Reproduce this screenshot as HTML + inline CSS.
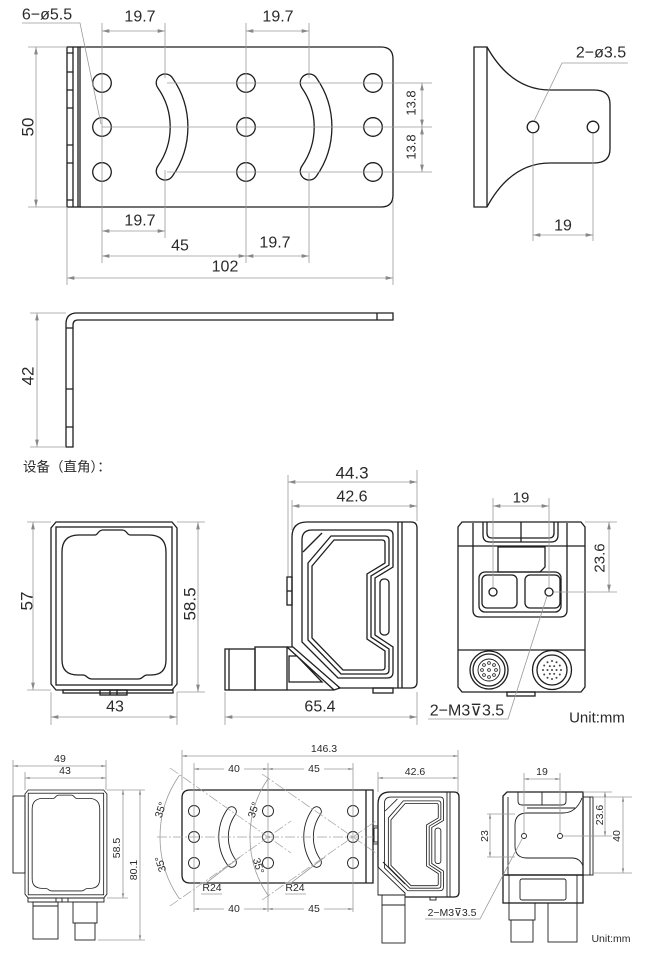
<!DOCTYPE html>
<html><head><meta charset="utf-8"><style>
html,body{margin:0;padding:0;background:#fff;}
svg{display:block}
.o{fill:none;stroke:#1e1e1e;stroke-width:1.3}
.ot{fill:none;stroke:#1e1e1e;stroke-width:0.9}
.d{fill:none;stroke:#9a9a9a;stroke-width:0.8}
.a{marker-start:url(#m);marker-end:url(#m)}
.b{marker-start:url(#n);marker-end:url(#n)}
.c{fill:none;stroke:#a0a0a0;stroke-width:0.7;stroke-dasharray:10 2 2 2}
text{font-family:"Liberation Sans","DejaVu Sans",sans-serif;fill:#2a2a2a;text-anchor:middle;dominant-baseline:central}
.t{font-size:16px}
.t13{font-size:13px}
.t15{font-size:15px}
.t17{font-size:17px}
.s{font-size:10.5px}
.cn{font-family:"Liberation Sans","Noto Sans CJK SC",sans-serif;font-size:13.5px;text-anchor:start}
</style></head><body>
<svg xmlns="http://www.w3.org/2000/svg" width="670" height="958" viewBox="0 0 670 958">
<defs>
<marker id="m" viewBox="0 0 10 6" refX="10" refY="3" markerWidth="8" markerHeight="4.4" orient="auto-start-reverse" markerUnits="userSpaceOnUse"><path d="M0,0.5L10,3L0,5.5z" fill="#888"/></marker>
<marker id="n" viewBox="0 0 10 6" refX="10" refY="3" markerWidth="5" markerHeight="2.8" orient="auto-start-reverse" markerUnits="userSpaceOnUse"><path d="M0,0.5L10,3L0,5.5z" fill="#888"/></marker>
<g id="front">
 <path class="o" d="M56,522H172L177,528V684L172,690H56L51,684V528Z"/>
 <rect class="o" x="56" y="527" width="116" height="158"/>
 <path class="o" d="M79,535H95C98,535 98,530 103,530H122C127,530 127,535 130,535H149Q166,535 166,552V660Q166,675 151,675H147C143,675 143,679 138,679H92C87,679 87,675 83,675H78Q62,675 62,660V552Q62,535 79,535Z"/>
</g>
<g id="frm" class="o">
 <path d="M302,540Q302,530 312,530H388Q393,530 393,535V567L375,578V635L393,647V672Q393,678 387,678H338L302,642Z"/>
 <path d="M308,563L331,536H385Q389,536 389,540V565L371,576V637L389,649V670Q389,674 385,674H341L308,640Z"/>
 <path d="M312,566L334,540H382Q385,540 385,543V563L367,574V639L385,651V667Q385,670 382,670H343L312,638Z"/>
 <rect x="380" y="579" width="9" height="56" rx="4"/>
 <path d="M303,552L322,533"/>
</g>
</defs>

<!-- ============ TOP BRACKET ============ -->
<g class="o">
 <rect x="67" y="47" width="13" height="160"/>
 <line x1="73" y1="47" x2="73" y2="207"/>
 <line x1="78" y1="47" x2="78" y2="207"/>
 <path d="M67,53H73M67,72H73M67,90H73M67,108H73M67,145H73M67,163H73M67,200H73"/>
 <path d="M80,47H381Q393,47 393,59V195Q393,207 381,207H80"/>
 <circle cx="102" cy="83" r="9.3"/><circle cx="102" cy="127" r="9.3"/><circle cx="102" cy="172" r="9.3"/>
 <circle cx="246" cy="83" r="9.3"/><circle cx="246" cy="127" r="9.3"/><circle cx="246" cy="172" r="9.3"/>
 <circle cx="373" cy="83" r="9.3"/><circle cx="373" cy="127" r="9.3"/><circle cx="373" cy="172" r="9.3"/>
</g>
<path d="M165.1,82.8A77,77 0 0 1 165.1,171.2" stroke="#1e1e1e" stroke-width="19" stroke-linecap="round" fill="none"/>
<path d="M165.1,82.8A77,77 0 0 1 165.1,171.2" stroke="#fff" stroke-width="16.4" stroke-linecap="round" fill="none"/>
<path d="M309.1,82.8A77,77 0 0 1 309.1,171.2" stroke="#1e1e1e" stroke-width="19" stroke-linecap="round" fill="none"/>
<path d="M309.1,82.8A77,77 0 0 1 309.1,171.2" stroke="#fff" stroke-width="16.4" stroke-linecap="round" fill="none"/>
<g class="d">
 <path d="M102,23V263M246,23V263M165,23V78M165,170V238M309,23V78M309,173V263"/>
 <path d="M167,83H432M102,127H432M167,172H432"/>
 <path d="M28,47H67M28,207H67M67,207V285M393,200V285"/>
 <path d="M22,23H80L101,124"/>
 <line class="a" x1="102" y1="31" x2="165" y2="31"/>
 <line class="a" x1="246" y1="31" x2="309" y2="31"/>
 <line class="a" x1="102" y1="231" x2="165" y2="231"/>
 <line class="a" x1="102" y1="256" x2="246" y2="256"/>
 <line class="a" x1="246" y1="256" x2="309" y2="256"/>
 <line class="a" x1="67" y1="278" x2="393" y2="278"/>
 <line class="a" x1="36" y1="47" x2="36" y2="207"/>
 <line class="a" x1="422" y1="83" x2="422" y2="127"/>
 <line class="a" x1="422" y1="127" x2="422" y2="172"/>
</g>
<text class="t" x="47" y="15">6−ø5.5</text>
<text class="t" x="140" y="17">19.7</text>
<text class="t" x="278" y="17">19.7</text>
<text class="t" x="140" y="221">19.7</text>
<text class="t" x="180" y="246">45</text>
<text class="t" x="275" y="243">19.7</text>
<text class="t" x="225" y="267">102</text>
<text class="t17" transform="translate(28,127) rotate(-90)">50</text>
<text class="t13" transform="translate(411,103) rotate(-90)">13.8</text>
<text class="t13" transform="translate(411,147) rotate(-90)">13.8</text>

<!-- top right view -->
<path class="o" d="M474,47H487C500,70 520,90 550,90H594Q610,90 610,104V149Q610,163 594,163H550C520,163 500,183 487,207H474Z"/>
<line class="o" x1="487" y1="47" x2="487" y2="207"/>
<circle class="o" cx="533" cy="127" r="5.8"/>
<circle class="o" cx="593" cy="127" r="5.8"/>
<g class="d">
 <path d="M628,63H562L534,121"/>
 <path d="M533,134V241M593,134V241"/>
 <line class="a" x1="533" y1="235" x2="593" y2="235"/>
</g>
<text class="t" x="601" y="53">2−ø3.5</text>
<text class="t" x="563" y="226">19</text>

<!-- ============ SIDE L VIEW ============ -->
<path class="o" d="M66,447V324Q66,313 77,313H393V320H78Q73,320 73,325V447Z"/>
<path class="o" d="M66,328H73M66,389H73M66,427H73M377,313V320"/>
<g class="d">
 <path d="M30,313H66M30,447H66"/>
 <line class="a" x1="37" y1="313" x2="37" y2="447"/>
</g>
<text class="t17" transform="translate(28,376) rotate(-90)">42</text>
<text class="cn" x="23" y="467">设备（直角）：</text>

<!-- ============ DEVICE ROW ============ -->
<!-- front -->
<use href="#front"/>
<rect class="o" x="63" y="690" width="110" height="3"/>
<rect class="o" x="100" y="690" width="27" height="5"/>
<path class="o" d="M110,690V695M117,690V695"/>
<g class="d">
 <path d="M27,522H51M27,690H51M177,522H205M177,692H205M51,692V725M177,692V725"/>
 <line class="a" x1="33" y1="522" x2="33" y2="690"/>
 <line class="a" x1="198" y1="522" x2="198" y2="692"/>
 <line class="a" x1="51" y1="717" x2="177" y2="717"/>
</g>
<text class="t17" transform="translate(27,601) rotate(-90)">57</text>
<text class="t17" transform="translate(190,604) rotate(-90)">58.5</text>
<text class="t" x="115" y="707">43</text>

<!-- side -->
<path class="o" d="M292,647V537Q292,522 307,522H411Q417,522 417,528V682Q417,688 411,688H338"/>
<path class="o" d="M398,522V688M402,522V688"/>
<rect class="o" x="287" y="577" width="5" height="28"/>
<line class="o" x1="287" y1="591" x2="292" y2="591"/>
<rect class="o" x="225" y="649" width="30" height="41"/>
<line class="o" x1="229" y1="649" x2="229" y2="690"/>
<rect class="o" x="255" y="647" width="32" height="43"/>
<path class="o" d="M287,647H293L340,688L334,690H287M287,647L334,690M289,656H297L322,682H289Z"/>
<rect class="o" x="373" y="688" width="20" height="5"/>
<use href="#frm"/>
<g class="d">
 <path d="M288,475V576M417,470V521M292,500V530M225,692V725M417,692V725"/>
 <line class="a" x1="288" y1="482" x2="417" y2="482"/>
 <line class="a" x1="292" y1="506" x2="417" y2="506"/>
 <line class="a" x1="225" y1="717" x2="417" y2="717"/>
</g>
<text class="t17" x="352" y="473">44.3</text>
<text class="t" x="352" y="497">42.6</text>
<text class="t" x="320" y="707">65.4</text>

<!-- right view -->
<path class="o" d="M462,522H581L585,527V687L581,692H462L458,687V527Z"/>
<path class="o" d="M458,546H585M458,650H585"/>
<path class="o" d="M483,522V535Q483,542 490,542H551Q558,542 558,535V522M487,522V533Q487,538 492,538H549Q554,538 554,533V522M521,522V542"/>
<path class="o" d="M498,547H545V567L540,572H498Z"/>
<path class="o" d="M473,523V610Q473,617 480,617H560Q567,617 567,610V523"/>
<rect class="o" x="479" y="572" width="82" height="40" rx="6"/>
<rect class="o" x="482" y="575" width="35" height="33" rx="5"/>
<rect class="o" x="525" y="575" width="35" height="33" rx="5"/>
<circle class="o" cx="493" cy="592" r="4"/>
<circle class="o" cx="549" cy="592" r="4"/>
<circle class="o" cx="489" cy="670" r="19"/>
<circle class="o" cx="489" cy="670" r="16"/>
<circle class="ot" cx="489" cy="670" r="11"/>
<g fill="none" stroke="#1e1e1e" stroke-width="0.8">
 <circle cx="496" cy="670" r="1.4"/><circle cx="494" cy="665" r="1.4"/><circle cx="489" cy="663" r="1.4"/><circle cx="484" cy="665" r="1.4"/>
 <circle cx="482" cy="670" r="1.4"/><circle cx="484" cy="675" r="1.4"/><circle cx="489" cy="677" r="1.4"/><circle cx="494" cy="675" r="1.4"/><circle cx="489" cy="670" r="1.4"/>
</g>
<circle class="o" cx="552" cy="670" r="19.5"/>
<circle class="o" cx="552" cy="670" r="15"/>
<g fill="#444">
 <circle cx="561" cy="670" r="1"/><circle cx="559.8" cy="674.5" r="1"/><circle cx="556.5" cy="677.8" r="1"/><circle cx="552" cy="679" r="1"/>
 <circle cx="547.5" cy="677.8" r="1"/><circle cx="544.2" cy="674.5" r="1"/><circle cx="543" cy="670" r="1"/><circle cx="544.2" cy="665.5" r="1"/>
 <circle cx="547.5" cy="662.2" r="1"/><circle cx="552" cy="661" r="1"/><circle cx="556.5" cy="662.2" r="1"/><circle cx="559.8" cy="665.5" r="1"/>
 <circle cx="556.5" cy="670" r="1"/><circle cx="554.2" cy="673.9" r="1"/><circle cx="549.8" cy="673.9" r="1"/><circle cx="547.5" cy="670" r="1"/>
 <circle cx="549.8" cy="666.1" r="1"/><circle cx="554.2" cy="666.1" r="1"/><circle cx="552" cy="670" r="1"/>
</g>
<rect class="o" x="507" y="692" width="28" height="4"/>
<g class="d">
 <path d="M493,498V587M549,498V587M585,522H617M554,592H617"/>
 <line class="a" x1="493" y1="506" x2="549" y2="506"/>
 <line class="a" x1="609" y1="522" x2="609" y2="592"/>
 <path d="M428,719H508L547,596"/>
</g>
<text class="t15" x="521" y="498">19</text>
<text class="t15" transform="translate(600,558) rotate(-90)">23.6</text>
<text class="t" x="467" y="711">2−M3⊽3.5</text>
<text class="t15" x="597" y="718">Unit:mm</text>

<!-- ============ BOTTOM ROW ============ -->
<!-- small front -->
<rect class="ot" x="13" y="796" width="12" height="77"/>
<use href="#front" transform="translate(25,790) scale(0.65,0.643) translate(-51,-522)"/>
<rect class="ot" x="28" y="898" width="76" height="4"/>
<path class="ot" d="M56,898V902M62,898V902M68,898V902"/>
<rect class="ot" x="33" y="902" width="25" height="37"/>
<line class="ot" x1="33" y1="906" x2="58" y2="906"/>
<rect class="ot" x="73" y="902" width="24" height="21"/>
<rect class="ot" x="75" y="923" width="20" height="17"/>
<g class="d">
 <path d="M13,760V796M106,760V790M25,772V790M107,790H145M107,898H128M98,940H145"/>
 <line class="b" x1="13" y1="766" x2="106" y2="766"/>
 <line class="b" x1="25" y1="778" x2="106" y2="778"/>
 <line class="b" x1="123" y1="790" x2="123" y2="898"/>
 <line class="b" x1="140" y1="790" x2="140" y2="940"/>
</g>
<text class="s" x="60" y="759">49</text>
<text class="s" x="65" y="771">43</text>
<text class="s" transform="translate(117,848) rotate(-90)">58.5</text>
<text class="s" transform="translate(134,870) rotate(-90)">80.1</text>

<!-- bottom bracket -->
<path class="o" d="M373,790H190Q182,790 182,798V875Q182,883 190,883H373Z"/>
<line class="o" x1="366" y1="790" x2="366" y2="883"/>
<rect class="ot" x="373" y="826" width="5" height="18"/>
<g class="ot">
 <circle cx="194" cy="811" r="5.5"/><circle cx="194" cy="837" r="5.5"/><circle cx="194" cy="863" r="5.5"/>
 <circle cx="268" cy="811" r="5.5"/><circle cx="268" cy="837" r="5.5"/><circle cx="268" cy="863" r="5.5"/>
 <circle cx="353" cy="811" r="5.5"/><circle cx="353" cy="837" r="5.5"/><circle cx="353" cy="863" r="5.5"/>
</g>
<path d="M231.6,811.5A44.4,44.4 0 0 0 231.6,862.5" stroke="#1e1e1e" stroke-width="10.5" stroke-linecap="round" fill="none"/>
<path d="M231.6,811.5A44.4,44.4 0 0 0 231.6,862.5" stroke="#fff" stroke-width="8.7" stroke-linecap="round" fill="none"/>
<path d="M316.6,811.5A44.4,44.4 0 0 0 316.6,862.5" stroke="#1e1e1e" stroke-width="10.5" stroke-linecap="round" fill="none"/>
<path d="M316.6,811.5A44.4,44.4 0 0 0 316.6,862.5" stroke="#fff" stroke-width="8.7" stroke-linecap="round" fill="none"/>
<g class="c">
 <path d="M157,837H378"/>
 <path d="M170,768L291,853M170,906L291,821"/>
 <path d="M262,774L376,853M262,900L376,821"/>
</g>
<g class="d">
 <path d="M179.5,775.1A108,108 0 0 0 179.5,898.9"/>
 <path d="M268.6,777.9A103,103 0 0 0 268.6,896.1"/>
 <path d="M182,750V790M458,750V792M194,763V912M268,763V912M353,763V912M378,772V792"/>
 <line class="b" x1="182" y1="756" x2="458" y2="756"/>
 <line class="b" x1="194" y1="769" x2="268" y2="769"/>
 <line class="b" x1="268" y1="769" x2="353" y2="769"/>
 <line class="b" x1="194" y1="909" x2="268" y2="909"/>
 <line class="b" x1="268" y1="909" x2="353" y2="909"/>
 <line class="b" x1="378" y1="778" x2="458" y2="778"/>
 <path d="M240,857L206,883H200M325,857L291,883H285"/>
 <path d="M201,894H222M285,894H306"/>
</g>
<rect x="224" y="763" width="20" height="12" fill="#fff"/>
<rect x="304" y="763" width="20" height="12" fill="#fff"/>
<rect x="224" y="903" width="20" height="12" fill="#fff"/>
<rect x="304" y="903" width="20" height="12" fill="#fff"/>
<text class="s" x="324" y="749">146.3</text>
<text class="s" x="234" y="769">40</text>
<text class="s" x="314" y="769">45</text>
<text class="s" x="234" y="909">40</text>
<text class="s" x="314" y="909">45</text>
<text class="s" x="415" y="772">42.6</text>
<text class="s" x="212" y="888">R24</text>
<text class="s" x="295" y="888">R24</text>
<text class="s" transform="translate(161,810) rotate(-72)">35°</text>
<text class="s" transform="translate(161,864) rotate(-108)">35°</text>
<text class="s" transform="translate(254,810) rotate(-72)">35°</text>
<text class="s" transform="translate(258,866) rotate(72)">35°</text>

<!-- small side view -->
<path class="o" d="M378,867V804Q378,792 390,792H454Q459,792 459,797V892Q459,897 454,897H405"/>
<path class="ot" d="M447,792V897M450,792V897"/>
<path class="ot" d="M378,867V895H405L405,893L378,867M383,862L405,884"/>
<rect class="ot" x="374" y="828" width="4" height="14"/>
<rect class="ot" x="430" y="897" width="6" height="3"/>
<use href="#frm" transform="translate(378,792) scale(0.648,0.633) translate(-292,-522)"/>
<rect class="ot" x="382" y="895" width="23" height="48"/>
<line class="ot" x1="382" y1="905" x2="405" y2="905"/>

<!-- small right view -->
<path class="o" d="M507,792H583V875H503V796Z"/>
<rect class="ot" x="583" y="797" width="10" height="78"/>
<line class="ot" x1="590" y1="797" x2="590" y2="875"/>
<line class="ot" x1="508" y1="797" x2="508" y2="875"/>
<path class="ot" d="M518,792V801Q518,805 522,805H562Q566,805 566,801V792M542,792V805"/>
<path class="ot" d="M582,798C578,808 572,813 563,813H527Q515,813 515,825V846Q515,858 527,858H572Q580,858 583,866M527,808H575"/>
<circle class="ot" cx="524" cy="836" r="2.5"/>
<circle class="ot" cx="560" cy="836" r="2.5"/>
<rect class="o" x="503" y="875" width="80" height="28"/>
<rect class="ot" x="520" y="879" width="46" height="21" rx="2"/>
<path class="ot" d="M509,875V903M577,875V903"/>
<rect class="ot" x="509" y="903" width="26" height="17"/>
<rect class="ot" x="511" y="920" width="22" height="22"/>
<rect class="ot" x="548" y="903" width="29" height="39"/>
<g class="d">
 <path d="M524,773V833M560,773V833"/>
 <line class="b" x1="524" y1="779" x2="560" y2="779"/>
 <path d="M487,814H515M487,857H515"/>
 <line class="b" x1="490" y1="814" x2="490" y2="857"/>
 <path d="M583,792H612M563,836H612"/>
 <line class="b" x1="605" y1="792" x2="605" y2="836"/>
 <path d="M593,797H632M593,873H632"/>
 <line class="b" x1="623" y1="797" x2="623" y2="873"/>
 <path d="M425,919H480L522,839"/>
</g>
<text class="s" x="542" y="772">19</text>
<text class="s" transform="translate(485,836) rotate(-90)">23</text>
<text class="s" transform="translate(600,815) rotate(-90)">23.6</text>
<text class="s" transform="translate(617,836) rotate(-90)">40</text>
<text class="s" x="452" y="913">2−M3⊽3.5</text>
<text class="s" x="611" y="939">Unit:mm</text>
</svg>
</body></html>
